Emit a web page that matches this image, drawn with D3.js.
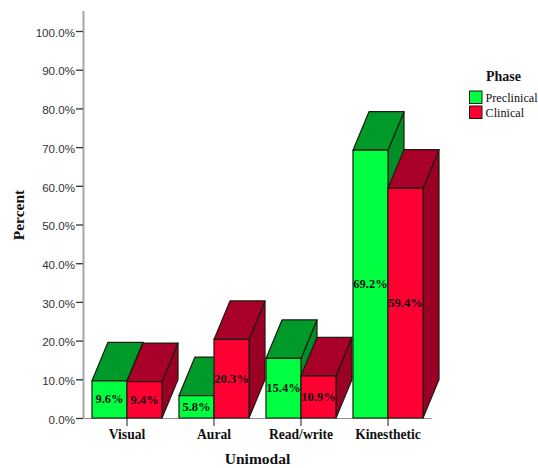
<!DOCTYPE html>
<html>
<head>
<meta charset="utf-8">
<script src="https://cdn.jsdelivr.net/npm/d3@7/dist/d3.min.js"></script>
<style>
  html, body { margin: 0; padding: 0; background: #fff; }
  svg { display: block; }
  .serif { font-family: "Liberation Serif", serif; fill: #111; }
  .sans { font-family: "Liberation Sans", sans-serif; fill: #333; }
</style>
</head>
<body>
<svg id="chart" width="538" height="468"></svg>
<script>
const categories = ["Visual", "Aural", "Read/write", "Kinesthetic"];
const phases = ["Preclinical", "Clinical"];
const preclinical = [9.6, 5.8, 15.4, 69.2];
const clinical = [9.4, 20.3, 10.9, 59.4];
const yTicks = [0, 10, 20, 30, 40, 50, 60, 70, 80, 90, 100];
const phaseFront = ["#00ff41", "#ff0033"];
const phaseTop = ["#009a2a", "#a80028"];
const phaseSide = ["#008f27", "#9a0024"];
const outline = "#1c1c12";

const svg = d3.select("#chart");
const axisX = 83.5, baseY = 418;

const y = d3.scaleLinear().domain([0, 100]).range([baseY, 31]);
const x = d3.scaleBand().domain(categories).range([axisX, axisX + 348]).paddingInner(0.195).paddingOuter(0.0975);
const inner = d3.scaleBand().domain(phases).range([0, x.bandwidth()]);

// Extrusion of each box, up and to the right
const depthX = 16, depthY = 38.5;

const poly = pts => pts.map(p => p.join(",")).join(" ");

// Axis lines
const axisG = svg.append("g");
axisG.append("line").attr("x1", axisX).attr("x2", axisX).attr("y1", 11).attr("y2", baseY)
  .attr("stroke", "#a6a6a6").attr("stroke-width", 2);
axisG.append("line").attr("x1", axisX).attr("x2", axisX + 348).attr("y1", baseY + 0.5).attr("y2", baseY + 0.5)
  .attr("stroke", "#8c8c8c").attr("stroke-width", 1.2);

// Value axis ticks and labels
const yAxis = d3.axisLeft(y).tickValues(yTicks).tickSize(7).tickPadding(1).tickFormat(d => d.toFixed(1) + "%");
const yG = svg.append("g").attr("transform", `translate(${axisX - 0.5},0)`).call(yAxis);
yG.select(".domain").remove();
yG.selectAll(".tick line").attr("stroke", "#333").attr("stroke-width", 1.3);
yG.selectAll(".tick text").attr("class", "sans").attr("font-family", null).attr("font-size", 11.6).attr("fill", null)
  .attr("dy", "0.45em");

// Category ticks sit below the baseline at each group's centre
const xAxis = d3.axisBottom(x).tickSize(8).tickPadding(3);
const xG = svg.append("g").attr("transform", `translate(0,${baseY})`).call(xAxis);
xG.select(".domain").remove();
xG.selectAll(".tick line").attr("stroke", "#444").attr("stroke-width", 1.2);
xG.selectAll(".tick text").attr("class", "serif").attr("font-family", null).attr("fill", null)
  .attr("font-size", 13.6).attr("font-weight", "bold");

// Boxes: green drawn first in each group so the red box overlaps its side
const rows = categories.flatMap((c, i) => [
  { cat: c, phase: 0, value: preclinical[i] },
  { cat: c, phase: 1, value: clinical[i] }
]);

const boxes = svg.append("g").selectAll("g").data(rows).join("g")
  .attr("stroke", outline).attr("stroke-width", 1.2).attr("stroke-linejoin", "round");

boxes.each(function (d) {
  const g = d3.select(this);
  const x0 = x(d.cat) + inner(phases[d.phase]);
  const x1 = x0 + inner.bandwidth();
  const top = y(d.value);
  g.append("polygon").attr("fill", phaseSide[d.phase])
    .attr("points", poly([[x1, top], [x1 + depthX, top - depthY], [x1 + depthX, baseY - depthY], [x1, baseY]]));
  g.append("polygon").attr("fill", phaseTop[d.phase])
    .attr("points", poly([[x0, top], [x0 + depthX, top - depthY], [x1 + depthX, top - depthY], [x1, top]]));
  g.append("rect").attr("fill", phaseFront[d.phase])
    .attr("x", x0).attr("y", top).attr("width", x1 - x0).attr("height", baseY - top);
});

// Value labels centred on the front faces
svg.append("g").selectAll("text").data(rows).join("text")
  .attr("class", "serif")
  .attr("x", d => x(d.cat) + inner(phases[d.phase]) + inner.bandwidth() / 2)
  .attr("y", d => (y(d.value) + baseY) / 2 + 4)
  .attr("text-anchor", "middle")
  .attr("font-size", 12.5).attr("font-weight", "bold")
  .text(d => d.value.toFixed(1) + "%");

// Axis titles
svg.append("text").attr("class", "serif").attr("text-anchor", "middle")
  .attr("transform", "translate(24,215) rotate(-90)")
  .attr("font-size", 15.5).attr("font-weight", "bold").text("Percent");
svg.append("text").attr("class", "serif").attr("text-anchor", "middle")
  .attr("x", 257.5).attr("y", 464)
  .attr("font-size", 15.5).attr("font-weight", "bold").text("Unimodal");

// Legend
svg.append("text").attr("class", "serif").attr("text-anchor", "middle")
  .attr("x", 503.5).attr("y", 81).attr("font-size", 14).attr("font-weight", "bold").text("Phase");
const legend = svg.append("g").selectAll("g").data(phases).join("g")
  .attr("transform", (d, i) => `translate(469.5,${91 + i * 15})`);
legend.append("rect").attr("width", 12.5).attr("height", 12.5)
  .attr("fill", (d, i) => phaseFront[i]).attr("stroke", outline).attr("stroke-width", 1);
legend.append("text").attr("class", "serif").attr("x", 16).attr("y", 11)
  .attr("font-size", 12.2).text(d => d);
</script>
</body>
</html>
